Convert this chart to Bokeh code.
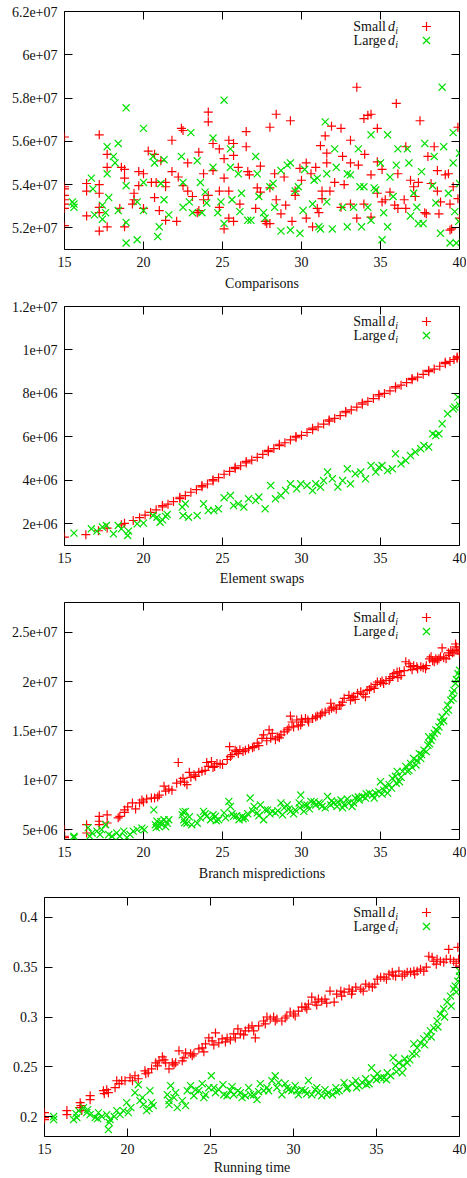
from bokeh.plotting import figure
from bokeh.models import Range1d, FixedTicker, LinearAxis, Label
from bokeh.layouts import column, row
from bokeh.embed import file_html
from bokeh.resources import INLINE

FONT = "Liberation Serif"
RED = "#ff0000"
GREEN = "#00e000"
TXT = "#111111"

X_TICKS = [15, 20, 25, 30, 35, 40]
PANEL_TITLES = ["Comparisons", "Element swaps", "Branch mispredictions", "Running time"]
LEGEND_LABELS = ["Small", "Large"]

CMP_TICKS = [5.2e7, 5.4e7, 5.6e7, 5.8e7, 6.0e7, 6.2e7]
CMP_LABELS = ["5.2e+07", "5.4e+07", "5.6e+07", "5.8e+07", "6e+07", "6.2e+07"]
SWP_TICKS = [2e6, 4e6, 6e6, 8e6, 1e7, 1.2e7]
SWP_LABELS = ["2e+06", "4e+06", "6e+06", "8e+06", "1e+07", "1.2e+07"]
BRM_TICKS = [5e6, 1e7, 1.5e7, 2e7, 2.5e7]
BRM_LABELS = ["5e+06", "1e+07", "1.5e+07", "2e+07", "2.5e+07"]
RT_TICKS = [0.2, 0.25, 0.3, 0.35, 0.4]
RT_LABELS = ["0.2", "0.25", "0.3", "0.35", "0.4"]

# ---- Comparisons (values in millions) ----
cmp_small = [(15.0,56.2),(15.0,53.9),(15.0,53.8),(15.0,53.5),(15.0,53.3),(15.0,53.1),(15.0,52.9),(15.0,52.1),
    (16.4,54.05),(16.4,53.7),(16.4,52.55),(17.2,54.0),(17.2,53.6),(17.2,56.3),(17.2,52.95),(17.2,51.85),(17.2,52.7),
    (17.7,55.4),(17.7,54.8),(17.7,52.05),(18.6,54.8),(18.5,52.9),(18.8,54.3),(18.8,52.05),(18.8,54.7),
    (19.3,53.1),(19.4,53.6),(19.4,53.3),(19.7,54.6),(19.7,53.95),(20.0,54.5),(20.0,52.9),
    (20.3,55.55),(20.5,54.1),(20.7,55.4),(20.7,53.4),(20.8,54.1),(21.1,55.1),(21.0,52.8),(21.4,54.1),(21.4,52.35),(21.4,53.9),
    (21.8,56.05),(21.8,54.6),(22.1,52.3),(22.2,54.35),(22.4,56.6),(22.5,56.5),(22.5,53.95),
    (22.8,55.0),(22.8,53.7),(23.1,53.45),(23.5,55.5),(23.5,52.8),(23.4,52.7),(23.8,54.5),(23.8,53.3),
    (24.1,57.35),(24.1,56.9),(24.1,53.5),(24.4,55.9),(24.4,54.65),(24.8,55.65),(24.8,53.7),(24.8,52.95),
    (25.1,55.2),(25.1,51.95),(25.1,54.3),(25.4,56.05),(25.4,53.7),(25.4,52.45),(25.7,55.9),(25.7,55.35),(25.7,52.3),
    (26.0,54.8),(26.1,53.1),(26.5,56.45),(26.5,55.75),(26.6,54.6),(26.7,54.45),
    (27.1,52.9),(27.2,53.85),(27.4,54.85),(27.4,53.65),(27.7,52.3),(27.8,52.2),
    (28.0,56.65),(28.0,53.85),(28.0,52.2),(28.4,57.25),(28.3,54.5),(28.4,53.3),(28.7,52.65),(28.9,54.35),(29.0,53.05),
    (29.3,56.95),(29.4,52.3),(29.6,53.5),(29.6,53.7),(29.9,54.75),(30.0,54.2),(30.3,55.0),(30.3,52.45),
    (30.6,54.5),(30.7,52.05),(30.9,54.8),(31.0,52.9),(31.1,52.7),(31.2,55.8),(31.3,53.7),(31.3,53.35),
    (31.5,56.25),(31.6,55.45),(31.6,55.0),(31.9,56.7),(31.8,53.7),(32.1,54.1),
    (32.5,56.6),(32.5,52.95),(32.6,55.3),(32.7,54.0),(33.1,56.05),(33.1,55.0),(33.1,53.1),
    (33.5,58.5),(33.5,52.45),(33.6,54.9),(33.95,57.05),(33.95,53.1),(34.0,55.4),(34.2,57.2),(34.4,57.25),
    (34.4,54.45),(34.4,52.5),(34.8,56.6),(34.8,55.05),(34.8,53.6),(35.1,54.7),(35.1,53.2),(35.3,53.3),
    (35.6,53.65),(35.9,53.05),(36.0,57.75),(36.1,54.5),(36.1,52.9),(36.5,53.3),(36.6,55.75),(36.6,52.9),
    (36.9,54.2),(37.1,53.9),(37.2,53.45),(37.5,56.95),(37.4,54.1),(37.9,52.65),(37.8,52.7),
    (38.0,55.3),(38.2,54.05),(38.4,55.75),(38.6,54.65),(38.6,53.7),(38.8,53.2),(38.7,52.65),
    (39.1,54.45),(39.3,54.5),(39.4,53.1),(39.4,51.9),(39.5,51.95),(39.6,53.9),(39.9,56.65),(39.9,53.35),(40.0,52.45)]
cmp_large = [(15.5,53.2),(15.6,52.95),(15.6,53.1),(16.7,54.3),(16.8,53.8),(16.9,52.6),(17.4,53.05),(17.4,52.4),(17.6,52.7),
    (17.7,55.75),(17.7,54.5),(17.8,53.4),(18.1,55.3),(18.2,55.0),(18.4,55.9),(18.4,52.8),
    (18.9,57.55),(18.9,53.95),(18.9,51.3),(18.9,52.25),(19.6,53.2),(19.6,51.45),(20.0,56.6),(20.0,54.1),(20.0,52.8),
    (20.6,55.3),(20.7,55.0),(20.9,51.6),(21.0,52.05),(21.1,54.05),(21.3,55.15),(21.3,53.3),(21.6,52.6),
    (22.4,55.3),(22.5,54.1),(22.5,52.95),(23.0,56.4),(22.9,53.2),(23.1,52.7),(23.4,55.1),(23.6,54.1),(23.7,52.7),
    (23.9,53.65),(24.0,53.15),(24.4,56.15),(24.4,54.8),(24.7,52.7),(24.9,53.2),(25.1,57.9),(25.1,52.2),
    (25.5,55.65),(25.5,54.8),(25.6,53.3),(26.0,54.5),(26.1,52.75),(26.2,53.6),(26.6,52.35),(26.8,52.35),
    (27.1,55.3),(27.2,54.5),(27.3,53.45),(27.6,52.7),(27.7,52.45),(28.0,53.9),(28.2,54.05),(28.3,52.95),
    (28.7,54.65),(28.7,51.85),(29.1,54.9),(29.3,55.0),(29.3,51.9),(29.6,53.7),(29.8,53.9),
    (29.9,51.75),(30.1,52.8),(30.2,54.7),(30.7,53.1),(30.8,54.2),(31.0,54.3),(31.1,52.05),(31.2,51.95),
    (31.5,56.9),(31.6,54.5),(31.6,53.2),(31.95,51.95),(32.1,55.65),(32.2,54.8),(32.6,52.95),(32.9,54.5),(32.9,52.05),
    (33.1,54.45),(33.3,52.95),(33.6,55.65),(33.7,53.9),(33.8,52.05),(33.95,53.9),(34.2,52.95),(34.4,52.35),
    (34.4,56.3),(34.6,53.85),(34.7,53.75),(35.0,55.0),(35.1,51.45),(35.2,52.7),(35.45,56.3),(35.45,52.05),(35.6,54.35),
    (35.8,53.45),(36.0,54.9),(36.1,55.65),(36.7,55.65),(36.8,55.0),(36.9,52.55),(37.1,53.6),(37.3,52.95),(37.4,52.2),
    (37.6,54.6),(37.8,55.9),(37.7,52.2),(38.3,53.95),(38.4,55.3),(38.5,53.15),(38.8,51.75),(38.9,58.5),(39.0,55.75),
    (39.3,53.6),(39.4,51.3),(39.6,56.4),(39.6,55.0),(39.7,52.75),(39.8,51.3),(40.0,55.45),(40.0,54.05),(39.95,52.3)]

# ---- Element swaps (values in millions) ----
swp_small = [(15.0,1.39),(16.35,1.5),(17.15,1.68),(17.7,1.8),(18.6,1.95),(18.8,2.02),(19.35,2.15),(19.75,2.28),
    (20.1,2.4),(20.45,2.52),(20.8,2.64),(21.2,2.78),(21.55,2.9),(21.9,3.02),(22.3,3.16),(22.65,3.3),(23.0,3.45),
    (23.35,3.57),(23.7,3.7),(24.05,3.83),(24.4,3.97),(24.75,4.12),(25.1,4.28),(25.45,4.41),(25.8,4.54),(26.15,4.67),
    (26.5,4.8),(26.85,4.93),(27.2,5.06),(27.55,5.19),(27.9,5.32),(28.25,5.46),(28.6,5.6),(28.95,5.73),(29.3,5.86),
    (29.65,5.96),(30.0,6.07),(30.35,6.2),(30.7,6.33),(31.05,6.46),(31.4,6.59),(31.75,6.72),(32.1,6.85),(32.45,6.98),
    (32.8,7.11),(33.15,7.24),(33.5,7.37),(33.85,7.5),(34.2,7.63),(34.55,7.76),(34.9,7.88),(35.25,8.0),(35.6,8.12),
    (35.95,8.25),(36.3,8.38),(36.65,8.5),(37.0,8.63),(37.35,8.75),(37.7,8.88),(38.05,9.0),(38.4,9.12),(38.75,9.25),
    (39.1,9.37),(39.4,9.47),(39.65,9.56),(39.85,9.62),(40.0,9.67),
    (21.2,2.84),(22.3,3.22),(23.7,3.76),(24.4,4.03),(25.8,4.6),(26.5,4.87),(27.9,5.38),(28.6,5.66),(29.65,6.02),
    (30.7,6.4),(31.75,6.78),(32.8,7.17),(33.85,7.56),(34.9,7.95),(35.95,8.31),(37.0,8.69),(38.05,9.06),(39.1,9.43),(39.85,9.68)]
swp_large = [(15.6,1.57),(16.7,1.77),(17.05,1.66),(17.4,1.85),(17.65,1.92),(18.1,1.54),(18.4,1.92),(18.6,1.77),
    (19.0,1.46),(19.05,1.66),(19.6,2.0),(20.0,2.03),(20.6,2.38),(20.85,2.3),(21.05,2.07),(21.2,2.18),(21.4,2.34),(21.5,2.43),
    (22.45,2.77),(22.65,2.92),(22.5,2.38),(22.85,2.3),(23.4,2.38),(23.8,2.92),(24.1,2.61),(24.45,2.61),
    (24.75,2.69),(25.1,3.2),(25.5,3.3),(25.7,2.84),(26.0,2.92),(26.35,2.77),(26.65,3.15),(27.1,3.07),(27.3,3.23),
    (27.7,2.69),(28.05,3.76),(28.35,3.15),(28.7,3.3),(29.0,3.53),(29.3,3.84),(29.7,3.61),(29.95,3.84),
    (30.35,3.76),(30.7,3.53),(30.9,3.84),(31.2,3.69),(31.4,3.99),(31.65,4.38),(31.95,4.07),(32.3,3.69),(32.6,3.99),
    (32.9,4.53),(33.1,3.84),(33.4,4.3),(33.75,4.38),(34.05,4.07),(34.4,4.68),(34.7,4.38),(34.9,4.6),(35.1,4.68),
    (35.45,4.45),(35.75,4.53),(35.95,5.22),(36.3,4.76),(36.6,4.91),(36.9,5.14),(37.2,5.3),(37.55,5.45),(37.75,5.6),
    (38.05,5.53),(38.3,6.14),(38.5,6.06),(38.7,6.14),(38.9,6.6),(39.25,7.06),(39.6,7.29),(39.7,7.37),(39.9,7.83),(40.0,7.45)]

# ---- Branch mispredictions (values in millions) ----
brm_small = [(15.0,4.33),(15.0,4.2),(15.0,5.0),(16.4,5.5),(16.4,4.66),(17.2,6.35),(17.2,5.85),(17.2,5.5),(17.7,6.5),(17.7,5.67),
    (18.4,6.2),(18.5,6.35),(18.8,7.0),(18.8,6.75),(19.3,7.7),(19.5,7.1),(19.75,7.7),(19.9,8.0),(20.2,8.1),(20.5,8.2),
    (20.9,8.3),(21.0,8.5),(21.3,9.4),(21.4,8.9),(21.6,9.1),(22.2,11.8),(22.1,9.7),(22.35,9.9),(22.5,10.2),(22.75,9.55),
    (22.9,10.8),(23.2,10.55),(23.5,10.8),(23.7,10.9),(24.0,11.8),(24.1,11.4),(24.3,11.9),(24.65,11.7),(24.85,11.65),
    (25.3,12.1),(25.45,13.4),(25.5,12.4),(25.8,13.05),(26.0,12.7),(26.1,13.1),(26.45,13.05),(26.65,13.2),(27.0,13.4),
    (27.2,13.75),(27.5,14.25),(27.6,14.6),(27.95,15.1),(28.05,14.25),(28.15,14.75),(28.35,14.1),(28.7,14.6),(28.9,14.9),
    (29.1,15.1),(29.3,16.5),(29.4,15.9),(29.5,15.4),(29.7,16.1),(29.95,15.6),(30.05,15.9),(30.25,16.25),(30.45,15.9),
    (30.7,16.25),(30.9,16.4),(31.2,16.6),(31.5,16.9),(31.75,17.1),(31.85,17.8),(32.05,17.4),(32.4,17.6),(32.6,17.9),
    (32.7,18.3),(33.0,18.6),(33.1,18.1),(33.3,18.45),(33.55,18.8),(33.75,18.95),(34.05,18.45),(34.15,19.1),(34.4,19.45),
    (34.7,19.7),(34.8,19.95),(35.1,20.05),(35.35,20.1),(35.55,20.1),(35.75,20.5),(35.85,20.8),(36.05,20.95),(36.3,20.6),
    (36.5,21.1),(36.6,22.0),(36.9,21.5),(37.1,21.6),(37.35,21.3),(37.55,21.5),(37.85,21.3),(38.1,22.3),(38.2,22.5),
    (38.4,22.0),(38.6,22.15),(38.8,22.5),(38.9,23.4),(39.15,22.3),(39.35,22.65),(39.45,23.15),(39.65,23.0),(39.75,23.8),
    (39.9,23.15),(40.0,22.8),
    (23.0,10.3),(24.4,11.3),(25.9,12.9),(26.9,13.3),(28.5,14.4),(30.0,16.2),(31.0,16.5),(32.2,17.2),(33.4,18.2),
    (34.6,19.3),(35.2,19.8),(36.1,20.4),(37.0,21.2),(37.7,21.4),(38.5,22.3),(39.0,22.4),(39.55,22.9),(40.0,23.2),
    (19.0,7.3),(20.0,7.8),(20.7,8.2),(21.8,9.0),(22.6,9.8),(23.3,10.4),(23.9,11.0),(24.5,11.4),(25.0,11.6),(25.6,12.6),
    (26.3,12.9),(27.3,13.5),(27.8,14.0),(28.6,14.3),(29.2,15.3),(29.8,15.5),(30.4,16.1),(31.3,16.8),(31.9,17.3),
    (32.5,17.6),(33.2,18.4),(33.9,18.7),(34.3,19.2),(35.0,19.9),(35.6,20.3),(36.2,21.0),(36.8,21.8),(37.3,21.5),
    (37.9,21.6),(38.3,22.1),(38.7,22.3),(39.3,22.9),(39.8,23.5)]
brm_large = [(15.6,4.33),(15.6,4.2),(16.5,5.2),(16.6,4.33),(16.75,4.66),(17.05,4.85),(17.25,4.5),(17.35,5.0),
    (17.6,5.5),(17.8,4.5),(18.0,4.33),(18.3,4.66),(18.5,4.33),(18.75,4.85),(18.95,4.2),(19.15,4.5),(19.35,4.85),
    (19.6,5.0),(19.9,5.15),(20.05,5.0),(20.65,7.0),(20.75,5.5),(20.85,5.85),(21.0,5.3),(21.15,5.5),(21.3,6.0),
    (21.5,5.65),(21.6,6.0),(22.45,6.5),(22.55,6.0),(22.65,6.85),(22.75,5.65),(23.05,5.5),(23.4,5.65),(23.8,6.85),
    (24.0,6.35),(24.25,6.0),(24.55,6.35),(24.75,6.0),(25.1,6.7),(25.4,7.85),(25.5,7.35),(25.7,6.35),(26.05,6.0),
    (26.25,6.35),(26.45,6.2),(26.75,8.2),(27.0,7.35),(27.2,6.7),(27.4,7.5),(27.6,6.0),(27.85,7.0),(28.15,6.85),
    (28.35,6.7),(28.7,7.7),(28.9,7.2),(29.1,7.5),(29.3,6.85),(29.6,7.0),(29.85,7.7),(29.95,8.5),(30.15,6.85),
    (30.35,7.5),(30.6,7.85),(30.9,7.5),(31.1,7.7),(31.3,7.35),(31.65,8.35),(31.85,7.5),(32.05,7.7),(32.25,7.35),
    (32.5,8.0),(32.7,7.5),(33.0,7.7),(33.2,7.35),(33.4,8.2),(33.65,8.0),(33.85,8.35),(34.05,8.2),(34.3,8.7),
    (34.5,8.5),(34.7,8.7),(34.9,8.85),(35.0,9.85),(35.2,9.0),(35.45,8.7),(35.55,9.55),(35.75,10.2),(35.95,10.4),
    (36.05,10.9),(36.2,9.85),(36.4,10.9),(36.6,11.4),(36.7,10.9),(36.9,11.7),(37.1,12.2),(37.25,11.55),(37.45,12.7),
    (37.55,12.2),(37.75,13.05),(38.0,13.55),(38.05,14.4),(38.2,14.05),(38.4,14.75),(38.5,15.1),(38.7,15.4),
    (38.8,15.9),(38.9,16.4),(39.15,16.9),(39.25,17.6),(39.45,18.1),(39.55,18.8),(39.65,19.1),(39.75,19.8),
    (39.9,20.8),(40.0,21.15),
    (20.8,5.2),(21.1,5.8),(21.4,5.3),(22.5,6.8),(22.6,5.7),(22.9,6.3),(23.6,6.2),(23.9,6.6),(24.4,6.5),(24.6,5.9),
    (25.2,6.2),(25.6,6.6),(25.9,6.4),(26.3,6.1),(26.6,6.6),(26.9,6.9),(27.3,6.4),(27.7,7.0),(28.0,6.6),(28.5,6.9),
    (28.8,6.5),(29.2,7.1),(29.5,6.6),(29.9,7.2),(30.2,7.5),(30.5,7.1),(30.8,7.8),(31.2,7.6),(31.5,7.2),(31.9,7.9),
    (32.3,7.8),(32.6,7.2),(32.9,8.1),(33.3,7.7),(33.6,8.3),(34.1,8.6),(34.6,8.2),(35.1,8.6),(35.3,9.4),(35.7,9.2),
    (36.0,9.7),(36.3,10.3),(36.8,11.0),(37.0,11.3),(37.3,12.0),(37.6,12.6),(37.9,12.9),(38.1,13.7),(38.3,14.4),
    (38.6,15.0),(39.0,16.0),(39.3,17.1),(39.6,18.3),(39.8,20.2),(40.0,20.6)]

# ---- Running time (seconds) ----
rt_small = [(15.0,0.204),(15.0,0.199),(15.0,0.2),(16.35,0.206),(16.35,0.202),(17.15,0.214),(17.15,0.209),(17.25,0.206),
    (17.75,0.221),(17.75,0.217),(18.55,0.226),(18.75,0.227),(18.85,0.224),(19.25,0.229),(19.35,0.236),(19.65,0.236),
    (19.85,0.236),(20.15,0.239),(20.45,0.241),(20.65,0.238),(21.05,0.246),(21.25,0.244),(21.45,0.248),(21.7,0.254),
    (21.9,0.256),(22.1,0.26),(22.3,0.254),(22.5,0.248),(22.7,0.254),(22.9,0.254),(23.1,0.266),(23.3,0.256),(23.5,0.264),
    (23.8,0.263),(24.0,0.263),(24.3,0.268),(24.5,0.269),(24.7,0.273),(24.9,0.279),(25.1,0.276),(25.3,0.284),(25.5,0.274),
    (25.7,0.278),(26.0,0.279),(26.2,0.277),(26.4,0.283),(26.65,0.288),(26.8,0.283),(27.1,0.286),(27.3,0.289),(27.5,0.291),
    (27.7,0.279),(27.9,0.291),(28.2,0.296),(28.4,0.3),(28.6,0.298),(28.8,0.3),(29.0,0.298),(29.3,0.296),(29.6,0.301),
    (29.8,0.305),(30.0,0.303),(30.3,0.306),(30.5,0.31),(30.7,0.31),(30.9,0.313),(31.1,0.32),(31.3,0.315),(31.5,0.318),
    (31.7,0.316),(31.9,0.318),(32.2,0.326),(32.45,0.315),(32.6,0.323),(32.85,0.326),(33.05,0.325),(33.35,0.328),
    (33.55,0.326),(33.75,0.33),(34.05,0.328),(34.35,0.333),(34.55,0.331),(34.75,0.33),(35.05,0.338),(35.25,0.34),
    (35.45,0.34),(35.75,0.343),(35.95,0.345),(36.15,0.341),(36.35,0.346),(36.55,0.341),(36.85,0.345),(37.05,0.345),
    (37.25,0.346),(37.45,0.346),(37.65,0.348),(37.85,0.346),(38.15,0.361),(38.35,0.36),(38.45,0.356),(38.65,0.358),
    (38.85,0.356),(39.05,0.355),(39.35,0.368),(39.45,0.358),(39.65,0.356),(39.9,0.37),(40.0,0.351),(39.95,0.358),
    (15.0,0.197),(17.2,0.211),(18.6,0.223),(19.5,0.233),(20.3,0.236),(21.1,0.243),(21.8,0.251),(22.2,0.257),
    (22.8,0.252),(23.4,0.259),(23.9,0.261),(24.6,0.265),(25.2,0.272),(25.9,0.275),(26.5,0.279),(27.0,0.282),
    (27.6,0.286),(28.3,0.293),(28.9,0.296),(29.5,0.299),(30.1,0.301),(30.8,0.308),(31.4,0.312),(32.0,0.314),
    (32.9,0.321),(33.5,0.323),(34.2,0.326),(34.9,0.333),(35.6,0.338),(36.0,0.342),(36.7,0.343),(37.3,0.343),
    (38.0,0.35),(38.6,0.353),(39.2,0.358),(39.8,0.354)]
rt_large = [(15.55,0.197),(15.55,0.2),(16.75,0.197),(16.95,0.199),(17.05,0.206),(17.35,0.209),(17.55,0.204),(17.75,0.202),
    (18.05,0.199),(18.25,0.204),(18.45,0.2),(18.75,0.202),(18.85,0.187),(18.95,0.197),(19.35,0.206),(19.55,0.202),
    (19.75,0.206),(19.95,0.214),(20.05,0.204),(20.45,0.224),(20.65,0.232),(20.75,0.216),(20.95,0.212),(21.15,0.206),
    (21.35,0.226),(21.45,0.214),(21.55,0.211),(22.4,0.222),(22.5,0.216),(22.6,0.231),(22.8,0.219),(23.0,0.209),
    (23.3,0.216),(23.6,0.226),(23.8,0.231),(24.0,0.221),(24.3,0.226),(24.5,0.233),(24.7,0.222),(24.9,0.229),
    (25.05,0.241),(25.3,0.224),(25.5,0.227),(25.75,0.232),(26.0,0.221),(26.2,0.226),(26.4,0.222),(26.65,0.226),
    (26.9,0.219),(27.1,0.221),(27.3,0.229),(27.6,0.222),(27.8,0.217),(28.0,0.233),(28.2,0.226),(28.4,0.229),
    (28.7,0.236),(28.9,0.241),(29.1,0.234),(29.3,0.222),(29.5,0.233),(29.7,0.227),(29.9,0.226),(30.1,0.231),
    (30.3,0.222),(30.5,0.227),(30.7,0.226),(30.9,0.236),(31.1,0.222),(31.3,0.227),(31.5,0.224),(31.7,0.221),
    (31.9,0.227),(32.1,0.224),(32.35,0.222),(32.55,0.229),(32.75,0.226),(33.05,0.234),(33.25,0.229),(33.55,0.233),
    (33.75,0.236),(33.95,0.231),(34.15,0.234),(34.35,0.238),(34.55,0.233),(34.7,0.249),(34.85,0.239),(35.05,0.243),
    (35.25,0.239),(35.45,0.239),(35.65,0.244),(35.85,0.241),(36.0,0.259),(36.15,0.251),(36.35,0.254),(36.55,0.244),
    (36.7,0.258),(36.85,0.254),(37.15,0.263),(37.25,0.273),(37.45,0.269),(37.65,0.274),(37.85,0.278),(38.05,0.281),
    (38.25,0.286),(38.45,0.289),(38.65,0.296),(38.85,0.303),(39.05,0.308),(39.25,0.315),(39.45,0.321),(39.65,0.328),
    (39.75,0.331),(39.9,0.336),(40.0,0.341),(40.0,0.346),
    (16.9,0.203),(17.6,0.207),(18.2,0.198),(18.9,0.194),(19.2,0.2),(20.2,0.209),(20.9,0.219),(21.3,0.208),
    (22.5,0.212),(22.9,0.224),(23.5,0.211),(24.1,0.227),(24.6,0.219),(25.2,0.229),(25.8,0.222),(26.3,0.23),
    (26.8,0.224),(27.4,0.222),(27.9,0.225),(28.5,0.226),(29.0,0.229),(29.6,0.229),(30.2,0.226),(30.8,0.223),
    (31.4,0.229),(32.0,0.222),(32.6,0.225),(33.2,0.228),(33.8,0.229),(34.4,0.232),(35.0,0.237),(35.6,0.237),
    (36.2,0.245),(36.6,0.251),(37.0,0.257),(37.4,0.263),(37.9,0.272),(38.3,0.28),(38.7,0.29),(39.1,0.3),
    (39.5,0.311),(39.8,0.325)]

PAGE_W = 466
MARGIN = 0


def style_axis(ax, show_labels=True):
    ax.axis_line_color = None
    ax.major_tick_in = 8
    ax.major_tick_out = 0
    ax.major_tick_line_color = "black"
    ax.major_tick_line_width = 1
    ax.minor_tick_line_color = None
    if show_labels:
        ax.major_label_text_font = FONT
        ax.major_label_text_font_size = "14px"
        ax.major_label_text_color = TXT
        ax.major_label_standoff = 7
    else:
        ax.major_label_text_color = None
        ax.major_label_standoff = 0


def panel(small, large, scale, y_lo, y_hi, ticks, labels, title, height, left, top, bottom, title_gap):
    right = 7
    p = figure(width=PAGE_W, height=height, x_range=Range1d(15, 40), y_range=Range1d(y_lo, y_hi),
               output_backend="svg", toolbar_location=None,
               min_border_left=left, min_border_right=right, min_border_top=top, min_border_bottom=bottom)
    p.grid.visible = False
    p.outline_line_color = "black"
    p.outline_line_width = 1
    p.background_fill_color = "white"
    p.border_fill_color = "white"

    xax = p.xaxis[0]
    xax.ticker = FixedTicker(ticks=X_TICKS)
    style_axis(xax)
    xax.axis_label = title
    xax.axis_label_text_font = FONT
    xax.axis_label_text_font_size = "14px"
    xax.axis_label_text_font_style = "normal"
    xax.axis_label_text_color = TXT
    xax.axis_label_standoff = title_gap

    yax = p.yaxis[0]
    yax.ticker = FixedTicker(ticks=ticks)
    yax.major_label_overrides = {t: l for t, l in zip(ticks, labels)}
    style_axis(yax)

    top_ax = LinearAxis(ticker=FixedTicker(ticks=X_TICKS))
    style_axis(top_ax, False)
    p.add_layout(top_ax, "above")
    right_ax = LinearAxis(ticker=FixedTicker(ticks=ticks))
    style_axis(right_ax, False)
    p.add_layout(right_ax, "right")

    p.scatter([a for a, b in small], [b * scale for a, b in small], marker="cross", size=9,
              line_color=RED, line_width=1.2)
    p.scatter([a for a, b in large], [b * scale for a, b in large], marker="x", size=10,
              line_color=GREEN, line_width=1.2)

    # legend (gnuplot style: text right-justified, sample to the right)
    fl = MARGIN + left
    fw = PAGE_W - left - right
    fh = height - top - bottom

    def dx(px):
        return 15 + (px - fl) / fw * 25

    def dy(off):
        return y_hi - off / fh * (y_hi - y_lo)

    for name, off, marker, color, size in zip(LEGEND_LABELS, [15, 29], ["cross", "x"], [RED, GREEN], [9, 10]):
        p.add_layout(Label(x=dx(385.5), y=dy(off), text=name, text_align="right", text_baseline="middle",
                           text_font=FONT, text_font_size="14px", text_color=TXT))
        p.add_layout(Label(x=dx(387.5), y=dy(off), text="d", text_align="left", text_baseline="middle",
                           text_font=FONT, text_font_size="14px", text_font_style="italic", text_color=TXT))
        p.add_layout(Label(x=dx(394.8), y=dy(off + 3.5), text="i", text_align="left", text_baseline="middle",
                           text_font=FONT, text_font_size="10px", text_font_style="italic", text_color=TXT))
        p.scatter([dx(426)], [dy(off)], marker=marker, size=size, line_color=color, line_width=1.2)
    return p


p1 = panel(cmp_small, cmp_large, 1e6, 5.1e7, 6.2e7, CMP_TICKS, CMP_LABELS, PANEL_TITLES[0], 295, 64, 11, 46, 6)
p2 = panel(swp_small, swp_large, 1e6, 1e6, 1.2e7, SWP_TICKS, SWP_LABELS, PANEL_TITLES[1], 295, 64, 11, 45, 5)
p3 = panel(brm_small, brm_large, 1e6, 4e6, 2.8e7, BRM_TICKS, BRM_LABELS, PANEL_TITLES[2], 295, 64, 12, 46, 6)
p4 = panel(rt_small, rt_large, 1.0, 0.18, 0.42, RT_TICKS, RT_LABELS, PANEL_TITLES[3], 293, 44, 12, 42, 3)

layout = column(row(p1), row(p2), row(p3), row(p4))
open("out.html", "w").write(file_html(layout, INLINE))
